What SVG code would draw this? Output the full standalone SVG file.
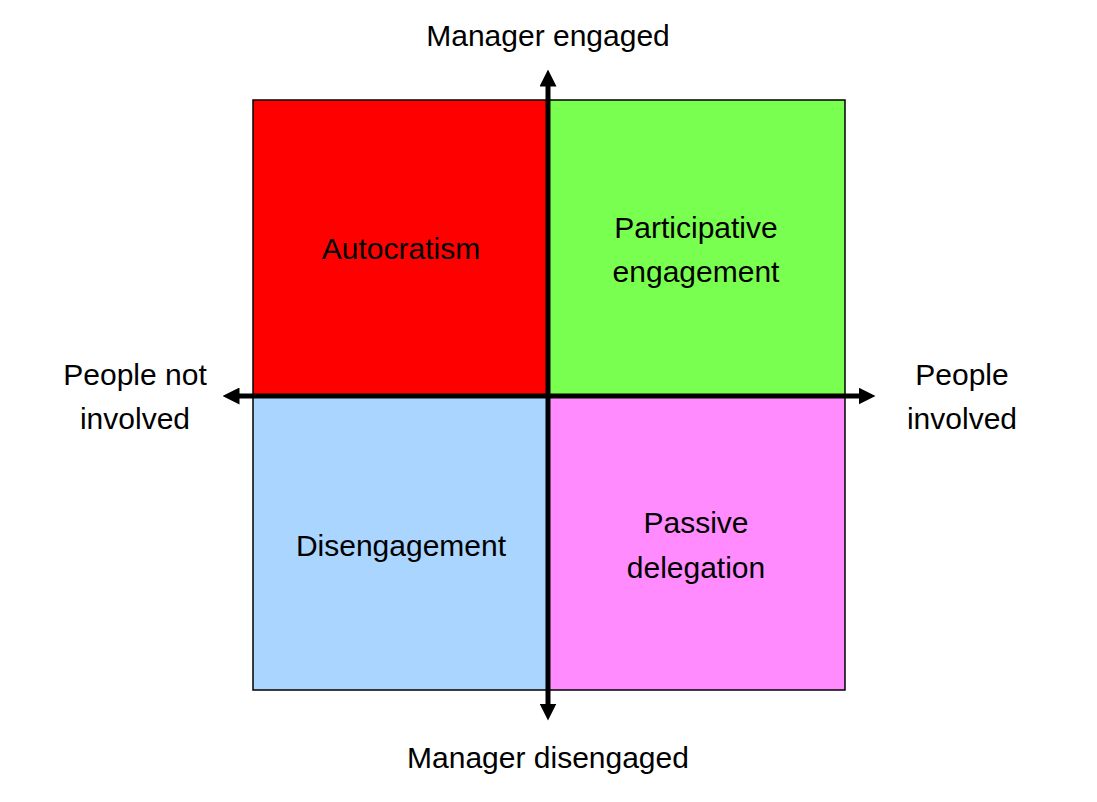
<svg xmlns="http://www.w3.org/2000/svg" width="1097" height="802" viewBox="0 0 1097 802">
<style>
text{font-family:"Liberation Sans",Arial,sans-serif;font-size:30px;fill:#000;text-anchor:middle;dominant-baseline:central}
.q{stroke:#000;stroke-width:1.5}
.ax{stroke:#000;stroke-width:5;fill:none}
</style>
<defs><marker id="a" viewBox="0 0 10 10" refX="5" refY="5" markerWidth="3.4" markerHeight="3.4" orient="auto-start-reverse" markerUnits="strokeWidth"><path d="M0,0L10,5L0,10z" fill="#000"/></marker></defs>
<rect width="1097" height="802" fill="#fff"/>
<g id="autocratism"><rect class="q" x="253" y="100" width="295" height="295" fill="#FF0000"/><text x="401" y="248">Autocratism</text></g>
<g id="participative"><rect class="q" x="548" y="100" width="297" height="295" fill="#79FF4F"/><text x="696" y="227">Participative</text><text x="696" y="271">engagement</text></g>
<g id="disengagement"><rect class="q" x="253" y="395" width="295" height="295" fill="#A9D5FF"/><text x="401" y="545">Disengagement</text></g>
<g id="passive"><rect class="q" x="548" y="395" width="297" height="295" fill="#FF8BFF"/><text x="696" y="522">Passive</text><text x="696" y="567">delegation</text></g>
<g id="connectors">
<line class="ax" x1="548" y1="78" x2="548" y2="712" marker-start="url(#a)" marker-end="url(#a)"/>
<line class="ax" x1="231" y1="396" x2="867" y2="396" marker-start="url(#a)" marker-end="url(#a)"/>
</g>
<g id="labels">
<text x="548" y="35">Manager engaged</text>
<text x="548" y="757">Manager disengaged</text>
<text x="135" y="374">People not</text><text x="135" y="418">involved</text>
<text x="962" y="374">People</text><text x="962" y="418">involved</text>
</g>
</svg>
